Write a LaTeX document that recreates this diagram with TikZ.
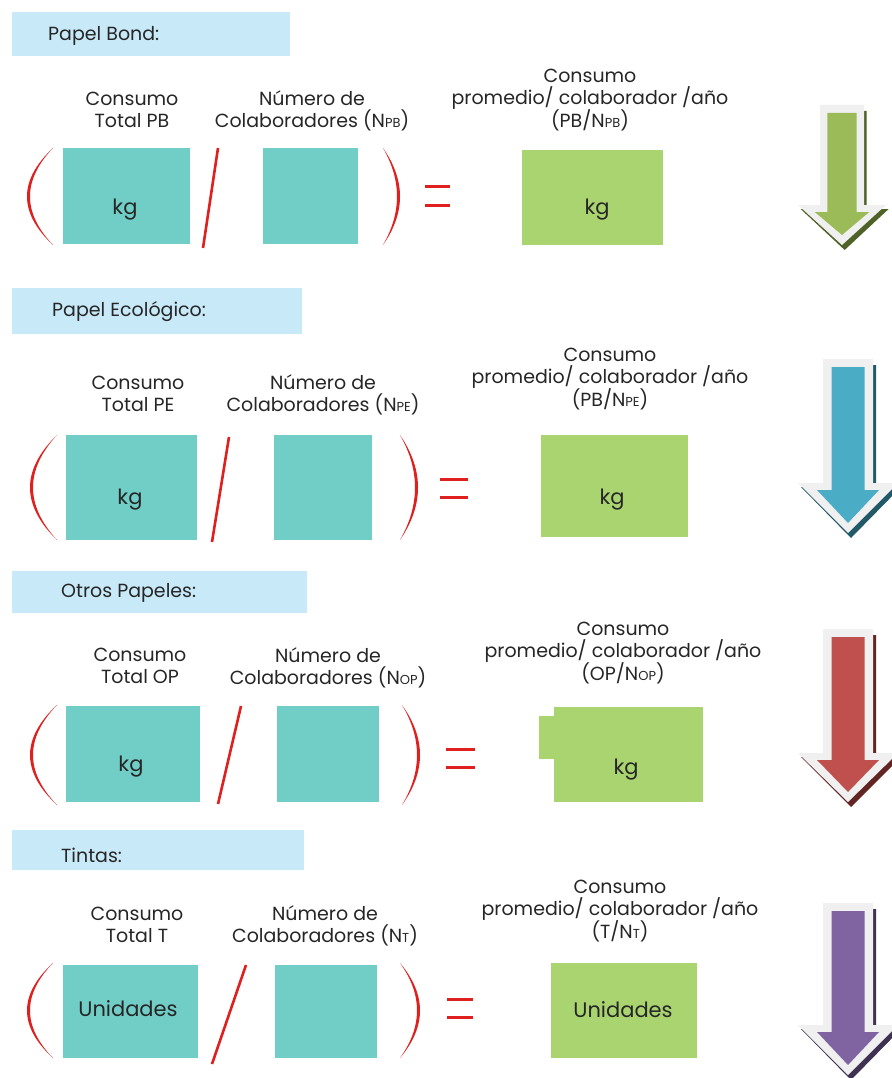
\documentclass[tikz,border=0pt]{standalone}
\usepackage{fontspec}
\setmainfont{Poppins}
\definecolor{hdrblue}{HTML}{C8E9F8}
\definecolor{boxteal}{HTML}{70CEC6}
\definecolor{boxgreen}{HTML}{A9D46F}
\definecolor{eqred}{HTML}{E0201F}
\definecolor{txtgray}{HTML}{262626}
\definecolor{arrgray}{HTML}{F0F0F0}
\definecolor{agreen}{HTML}{9BBB59}\definecolor{dgreen}{HTML}{4F6228}
\definecolor{ablue}{HTML}{4BACC6}\definecolor{dblue}{HTML}{215968}
\definecolor{ared}{HTML}{C0504D}\definecolor{dred}{HTML}{632523}
\definecolor{apurple}{HTML}{8064A2}\definecolor{dpurple}{HTML}{3F3151}
\newcommand\sbs[1]{{\fontsize{13}{13}\selectfont #1}}
\newcommand\parenshape[5]{%
 \pgfmathsetmacro\ca{(8*#4-2*#1)/6}%
 \pgfmathsetmacro\cb{(8*(#4+#5)-2*#1)/6}%
 \pgfmathsetmacro\ya{#2+(#3-#2)/3}%
 \pgfmathsetmacro\yb{#2+2*(#3-#2)/3}%
 \fill[eqred] (#1,#2) .. controls (\ca,\ya) and (\ca,\yb) .. (#1,#3) .. controls (\cb,\yb) and (\cb,\ya) .. (#1,#2) -- cycle;}
\newcommand\eqsign[3]{%
 \draw[eqred,line width=3pt] (#1,#3-9) -- (#2,#3-9);
 \draw[eqred,line width=3pt] (#1,#3+9) -- (#2,#3+9);}
\def\arrsc{1}
\newcommand\bigarrow[6]{%
\begin{scope}[shift={(#1,0)},xscale=\arrsc]
 \fill[#6] (-22,#2+6) -- (28,#2+6) -- (28,#3+4) -- (53,#3+4) -- (3,#4+5) -- (-47,#3+4) -- (-22,#3+4) -- cycle;
 \fill[arrgray] (-25,#2) -- (25,#2) -- (25,#3) -- (50,#3) -- (0,#4) -- (-50,#3) -- (-25,#3) -- cycle;
 \fill[#5] (-16.5,#2+8) -- (16.5,#2+8) -- (16.5,#3+7) -- (31,#3+7) -- (0,#4-10) -- (-31,#3+7) -- (-16.5,#3+7) -- cycle;
\end{scope}}
\begin{document}
\begin{tikzpicture}[x=1pt,y=-1pt,
  lab/.style={align=center,font=\fontsize{19}{22}\selectfont,text=txtgray,inner sep=0pt},
  hdrtxt/.style={anchor=west,font=\fontsize{19}{22}\selectfont,text=txtgray,inner sep=0pt},
  boxtxt/.style={font=\fontsize{21}{22}\selectfont,text=txtgray,inner sep=0pt},
  slash/.style={eqred,line width=2.6pt}]
\useasboundingbox (0,0) rectangle (891,1078);
\fill[white] (0,0) rectangle (891,1078);

% ---------- Section 1: Papel Bond ----------
\fill[hdrblue] (12,12) rectangle (290,56);
\node[hdrtxt] (h1) at (48,36) {Papel Bond:};
\node[lab] (l1a) at (132,110) {Consumo\\Total PB};
\node[lab] (l1b) at (312,111) {Número de\\Colaboradores (N\sbs{PB})};
\node[lab] (l1c) at (590,100) {Consumo\\promedio/ colaborador /año\\(PB/N\sbs{PB})};
\parenshape{53}{148}{245}{27}{3}
\fill[boxteal] (63,148) rectangle (190,244);
\node[boxtxt] (k1a) at (125,210) {kg};
\draw[slash] (218,148) -- (203,248);
\fill[boxteal] (263,148) rectangle (358,244);
\parenshape{383}{148}{245}{400}{-3}
\eqsign{425}{450}{196}
\fill[boxgreen] (522,150) rectangle (663,245);
\node[boxtxt] (k1c) at (597,210) {kg};
\def\arrsc{0.88}
\bigarrow{842}{105}{205}{245}{agreen}{dgreen}
\def\arrsc{1}

% ---------- Section 2: Papel Ecologico ----------
\fill[hdrblue] (12,288) rectangle (302,334);
\node[hdrtxt] (h2) at (52,312) {Papel Ecológico:};
\node[lab] (l2a) at (138,394) {Consumo\\Total PE};
\node[lab] (l2b) at (323,395) {Número de\\Colaboradores (N\sbs{PE})};
\node[lab] (l2c) at (610,379) {Consumo\\promedio/ colaborador /año\\(PB/N\sbs{PE})};
\parenshape{57}{435}{540}{30}{3}
\fill[boxteal] (66,435) rectangle (197,540);
\node[boxtxt] (k2a) at (130,500) {kg};
\draw[slash] (229,437) -- (212,542);
\fill[boxteal] (274,435) rectangle (372,540);
\parenshape{400}{435}{540}{418}{-3}
\eqsign{440}{468}{488}
\fill[boxgreen] (541,435) rectangle (688,537);
\node[boxtxt] (k2c) at (612,500) {kg};
\bigarrow{848}{359}{483}{533}{ablue}{dblue}

% ---------- Section 3: Otros Papeles ----------
\fill[hdrblue] (12,571) rectangle (307,613);
\node[hdrtxt] (h3) at (61,593) {Otros Papeles:};
\node[lab] (l3a) at (140,666) {Consumo\\Total OP};
\node[lab] (l3b) at (328,668) {Número de\\Colaboradores (N\sbs{OP})};
\node[lab] (l3c) at (623,653) {Consumo\\promedio/ colaborador /año\\(OP/N\sbs{OP})};
\parenshape{57}{705}{805}{30}{3}
\fill[boxteal] (66,706) rectangle (200,802);
\node[boxtxt] (k3a) at (131,767) {kg};
\draw[slash] (241,706) -- (218,804);
\fill[boxteal] (277,706) rectangle (379,802);
\parenshape{402}{705}{805}{420}{-3}
\eqsign{446}{475}{758}
\fill[boxgreen] (554,707) rectangle (703,802);
\fill[boxgreen] (539,716) rectangle (555,759);
\node[boxtxt] (k3c) at (626,770) {kg};
\bigarrow{848}{629}{753}{802}{ared}{dred}

% ---------- Section 4: Tintas ----------
\fill[hdrblue] (12,830) rectangle (304,870);
\node[hdrtxt] (h4) at (61,855) {Tintas:};
\node[lab] (l4a) at (137,925) {Consumo\\Total T};
\node[lab] (l4b) at (325,926) {Número de\\Colaboradores (N\sbs{T})};
\node[lab] (l4c) at (620,911) {Consumo\\promedio/ colaborador /año\\(T/N\sbs{T})};
\parenshape{53}{963}{1058}{27}{3}
\fill[boxteal] (63,965) rectangle (198,1058);
\node[boxtxt] (k4a) at (128,1009) {Unidades};
\draw[slash] (246,965) -- (212,1064);
\fill[boxteal] (275,965) rectangle (377,1058);
\parenshape{400}{963}{1058}{420}{-3}
\eqsign{447}{473}{1008}
\fill[boxgreen] (551,963) rectangle (697,1058);
\node[boxtxt] (k4c) at (623,1010) {Unidades};
\bigarrow{848}{903}{1025}{1075}{apurple}{dpurple}
\end{tikzpicture}
\end{document}
